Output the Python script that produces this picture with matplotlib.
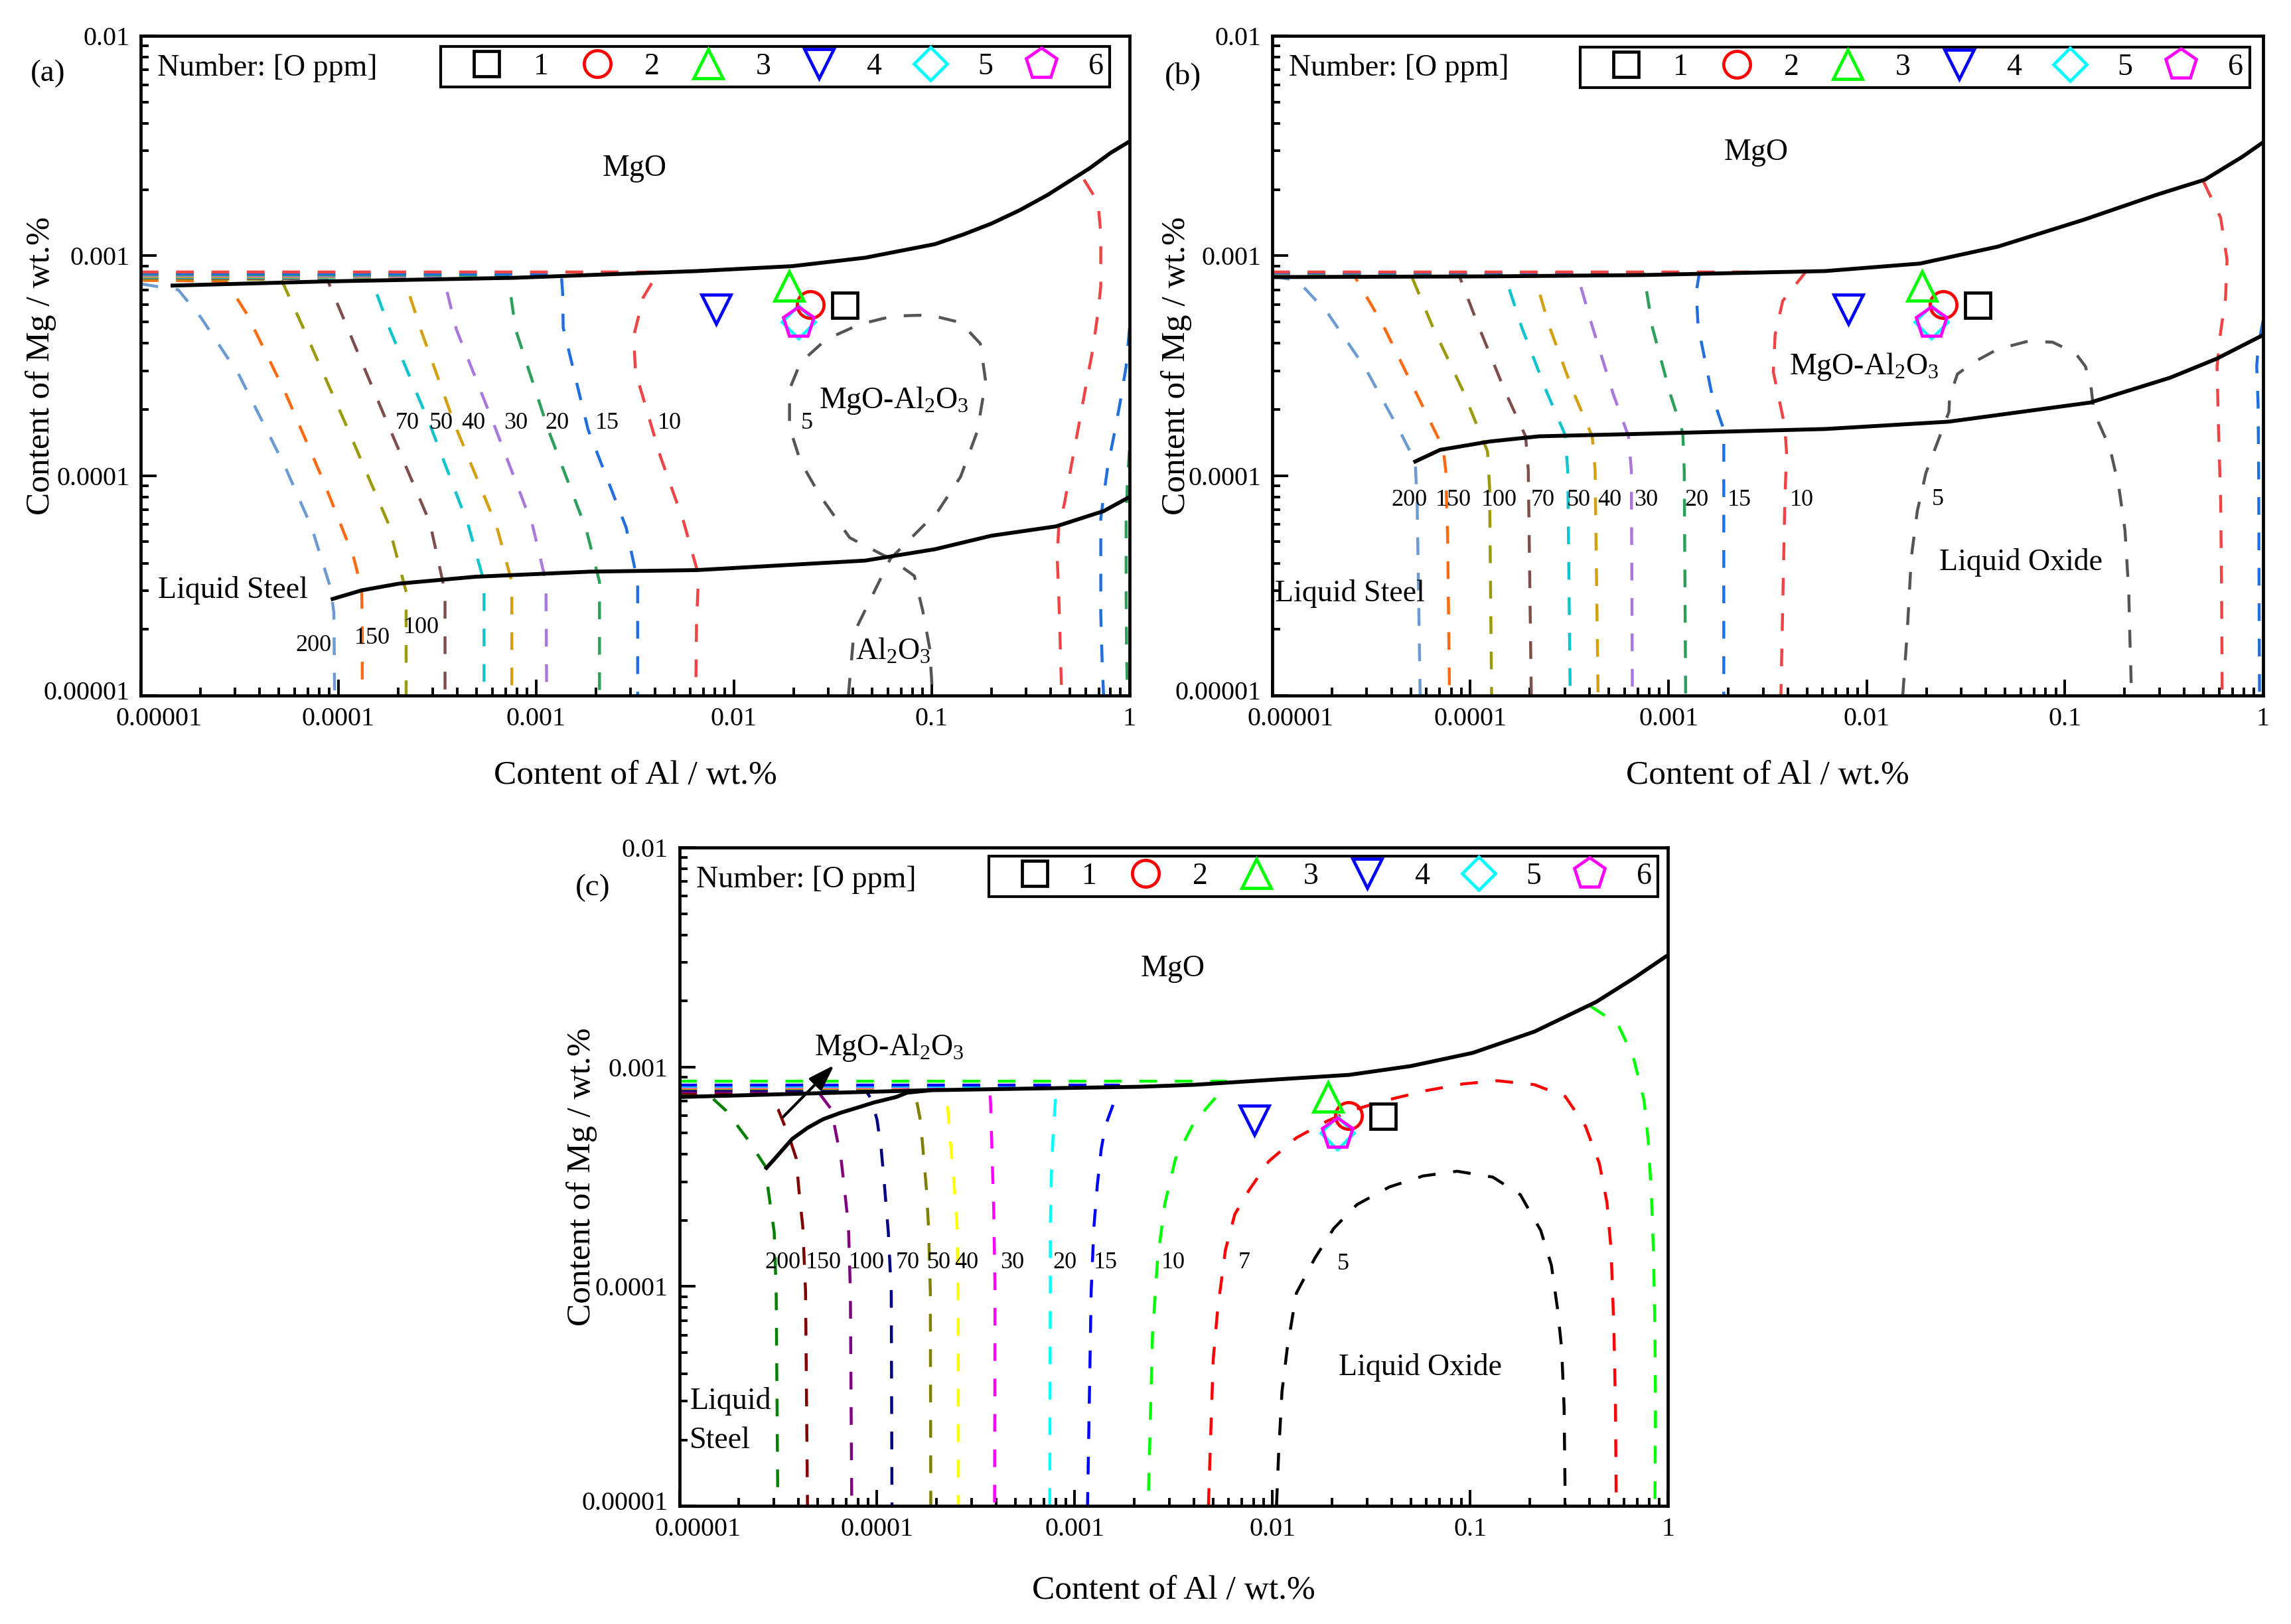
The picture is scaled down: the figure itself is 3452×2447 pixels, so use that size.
import numpy as np
import matplotlib
matplotlib.use('Agg')
import matplotlib.pyplot as plt
from matplotlib.ticker import LogLocator, FixedLocator, FixedFormatter, NullFormatter
from matplotlib.transforms import ScaledTranslation

plt.rcParams['font.family'] = ['Liberation Serif', 'DejaVu Serif']
plt.rcParams['mathtext.fontset'] = 'custom'
plt.rcParams['mathtext.rm'] = 'Liberation Serif'
plt.rcParams['mathtext.it'] = 'Liberation Serif:italic'
plt.rcParams['mathtext.default'] = 'regular'

# ---------------- axis ticks ----------------
X_TICKS = [1e-5, 1e-4, 1e-3, 1e-2, 1e-1, 1.0]
X_TICK_LABELS = ['0.00001', '0.0001', '0.001', '0.01', '0.1', '1']
Y_TICKS = [1e-5, 1e-4, 1e-3, 1e-2]
Y_TICK_LABELS = ['0.00001', '0.0001', '0.001', '0.01']

# ---------------- samples (same in all panels) ----------------
SAMPLE_NAMES = ['1', '2', '3', '4', '5', '6']
SAMPLE_AL = [0.0363, 0.0243, 0.0190, 0.0081, 0.0212, 0.0212]
SAMPLE_MG = [5.96e-4, 6.0e-4, 7.3e-4, 5.7e-4, 5.0e-4, 4.97e-4]

# ================= panel (a) =================
A_200_AL = [1.0e-5, 1.55e-5, 2.02e-5, 3.15e-5, 5.37e-5, 7.33e-5, 9.14e-5, 9.48e-5, 9.57e-5]
A_200_MG = [7.45e-4, 7.0e-4, 5.23e-4, 2.86e-4, 1.10e-4, 5.8e-5, 3.07e-5, 2.39e-5, 1.0e-5]
A_150_AL = [1e-5, 2.70e-5, 3.45e-5, 5.37e-5, 8.37e-5, 1.19e-4, 1.31e-4, 1.32e-4, 1.32e-4]
A_150_MG = [7.73e-4, 7.67e-4, 5.42e-4, 2.40e-4, 9.53e-5, 4.29e-5, 3.06e-5, 2.15e-5, 1e-5]
A_100_AL = [1e-5, 5.14e-5, 6.70e-5, 1.09e-4, 1.78e-4, 2.20e-4, 2.20e-4]
A_100_MG = [7.86e-4, 7.81e-4, 4.62e-4, 1.71e-4, 6.12e-5, 2.96e-5, 1e-5]
A_70_AL = [1e-5, 8.75e-5, 1.12e-4, 1.78e-4, 2.90e-4, 3.46e-4, 3.46e-4]
A_70_MG = [7.94e-4, 7.86e-4, 4.62e-4, 1.71e-4, 6.12e-5, 2.96e-5, 1e-5]
A_50_AL = [1e-5, 1.46e-4, 1.82e-4, 2.90e-4, 4.52e-4, 5.45e-4, 5.45e-4]
A_50_MG = [8.00e-4, 7.94e-4, 4.62e-4, 1.71e-4, 6.01e-5, 3.29e-5, 1e-5]
A_40_AL = [1e-5, 2.14e-4, 2.59e-4, 3.87e-4, 6.30e-4, 7.53e-4, 7.53e-4]
A_40_MG = [8.06e-4, 8.00e-4, 4.70e-4, 1.71e-4, 5.91e-5, 3.29e-5, 1e-5]
A_30_AL = [1e-5, 3.39e-4, 3.95e-4, 6.16e-4, 9.60e-4, 1.12e-3, 1.13e-3]
A_30_MG = [8.15e-4, 8.06e-4, 4.62e-4, 1.68e-4, 5.91e-5, 3.29e-5, 1e-5]
A_20_AL = [1e-5, 7.20e-4, 7.87e-4, 1.15e-3, 1.79e-3, 2.09e-3, 2.09e-3]
A_20_MG = [8.24e-4, 8.15e-4, 4.62e-4, 1.62e-4, 5.70e-5, 3.29e-5, 1e-5]
A_15_AL = [1e-5, 1.34e-3, 1.36e-3, 1.37e-3, 1.83e-3, 2.85e-3, 3.26e-3, 3.26e-3]
A_15_MG = [8.30e-4, 8.24e-4, 6.82e-4, 4.70e-4, 1.62e-4, 5.81e-5, 3.29e-5, 1e-5]
A_10_AL = [1e-5, 4.15e-3, 3.48e-3, 3.11e-3, 3.18e-3, 4.25e-3, 5.55e-3, 6.62e-3, 6.47e-3, 6.41e-3]
A_10_MG = [8.44e-4, 8.44e-4, 6.47e-4, 4.30e-4, 2.96e-4, 1.22e-4, 6.23e-5, 3.53e-5, 2.15e-5, 1e-5]
A_10R_AL = [0.589, 0.693, 0.716, 0.716, 0.693, 0.650, 0.598, 0.552, 0.508, 0.469, 0.439, 0.431, 0.439, 0.445, 0.454]
A_10R_MG = [2.22e-3, 1.75e-3, 1.27e-3, 7.26e-4, 5.50e-4, 3.68e-4, 2.47e-4, 1.66e-4, 1.11e-4, 7.47e-5, 5.88e-5, 4.27e-5, 2.87e-5, 1.92e-5, 1e-5]
A_15R_AL = [1.0, 0.962, 0.900, 0.843, 0.778, 0.740, 0.716, 0.716, 0.716, 0.728, 0.740]
A_15R_MG = [4.68e-4, 3.14e-4, 2.19e-4, 1.59e-4, 1.11e-4, 8.09e-5, 6.37e-5, 4.27e-5, 2.35e-5, 1.40e-5, 1e-5]
A_20R_AL = [1.0, 0.977, 0.962, 0.962, 0.967, 0.977]
A_20R_MG = [1.31e-4, 9.5e-5, 6.37e-5, 2.87e-5, 1.58e-5, 1e-5]
A_5_AL = [0.0379, 0.0404, 0.0618, 0.1076, 0.140, 0.170, 0.1875, 0.176, 0.140, 0.0977, 0.0638, 0.0432,
          0.0292, 0.0217, 0.0191, 0.0191, 0.0217, 0.0273, 0.0385, 0.0618, 0.0817, 0.0900, 0.0977, 0.101]
A_5_MG = [1e-5, 1.92e-5, 4.19e-5, 6.90e-5, 9.89e-5, 1.59e-4, 2.68e-4, 3.99e-4, 4.97e-4, 5.38e-4, 5.32e-4, 4.88e-4,
          4.16e-4, 3.27e-4, 2.47e-4, 1.66e-4, 1.16e-4, 8.09e-5, 5.22e-5, 4.19e-5, 3.50e-5, 2.44e-5, 1.64e-5, 1e-5]
A_UP_AL = [1.45e-5, 8.4e-5, 7.7e-4, 6.5e-3, 0.0197, 0.0461, 0.104, 0.1445, 0.200, 0.278, 0.385, 0.629, 0.804, 1.0]
A_UP_MG = [7.32e-4, 7.64e-4, 7.94e-4, 8.52e-4, 8.97e-4, 9.8e-4, 1.13e-3, 1.25e-3, 1.40e-3, 1.61e-3, 1.89e-3,
           2.50e-3, 2.94e-3, 3.31e-3]
A_LOW_AL = [9.35e-5, 1.31e-4, 2.03e-4, 4.93e-4, 1.87e-3, 6.49e-3, 0.0461, 0.104, 0.200, 0.425, 0.740, 1.0]
A_LOW_MG = [2.75e-5, 3.01e-5, 3.23e-5, 3.47e-5, 3.66e-5, 3.72e-5, 4.11e-5, 4.63e-5, 5.33e-5, 5.88e-5, 6.90e-5, 8.0e-5]
A_LBL_TXT = ['70', '50', '40', '30', '20', '15', '10', '200', '150', '100', '5']
A_LBL_AL = [2.22e-4, 3.31e-4, 4.83e-4, 7.87e-4, 1.28e-3, 2.28e-3, 4.74e-3, 7.5e-5, 1.48e-4, 2.62e-4, 0.0233]
A_LBL_MG = [1.73e-4, 1.73e-4, 1.73e-4, 1.73e-4, 1.73e-4, 1.73e-4, 1.73e-4, 1.69e-5, 1.83e-5, 2.04e-5, 1.74e-4]

# ================= panel (b) =================
B_200_AL = [1e-5, 1.34e-5, 1.90e-5, 2.96e-5, 4.41e-5, 5.27e-5, 5.39e-5, 5.58e-5]
B_200_MG = [8.06e-4, 7.73e-4, 5.51e-4, 3.07e-4, 1.59e-4, 1.16e-4, 7.44e-5, 1e-5]
B_150_AL = [1e-5, 2.60e-5, 3.61e-5, 5.15e-5, 7.28e-5, 7.51e-5, 7.68e-5, 7.85e-5]
B_150_MG = [8.14e-4, 8.09e-4, 4.88e-4, 2.53e-4, 1.34e-4, 1.06e-4, 5.21e-5, 1e-5]
B_100_AL = [1e-5, 5.04e-5, 6.43e-5, 9.16e-5, 1.22e-4, 1.25e-4, 1.28e-4]
B_100_MG = [8.17e-4, 8.11e-4, 4.79e-4, 2.44e-4, 1.29e-4, 8.88e-5, 1e-5]
B_70_AL = [1e-5, 8.76e-5, 1.09e-4, 1.49e-4, 1.90e-4, 1.96e-4, 2.03e-4]
B_70_MG = [8.23e-4, 8.17e-4, 4.88e-4, 2.44e-4, 1.51e-4, 1.06e-4, 1e-5]
B_50_AL = [1e-5, 1.49e-4, 1.82e-4, 2.43e-4, 3.00e-4, 3.10e-4, 3.19e-4]
B_50_MG = [8.26e-4, 8.20e-4, 4.70e-4, 2.40e-4, 1.54e-4, 1.06e-4, 1e-5]
B_40_AL = [1e-5, 2.10e-4, 2.48e-4, 3.31e-4, 4.12e-4, 4.26e-4, 4.41e-4]
B_40_MG = [8.29e-4, 8.23e-4, 4.88e-4, 2.40e-4, 1.51e-4, 1.06e-4, 1e-5]
B_30_AL = [1e-5, 3.46e-4, 4.12e-4, 5.26e-4, 6.28e-4, 6.49e-4, 6.57e-4]
B_30_MG = [8.32e-4, 8.26e-4, 4.79e-4, 2.35e-4, 1.51e-4, 1.06e-4, 1e-5]
B_20_AL = [1e-5, 7.50e-4, 8.30e-4, 1.02e-3, 1.18e-3, 1.20e-3, 1.22e-3]
B_20_MG = [8.35e-4, 8.29e-4, 4.70e-4, 2.35e-4, 1.57e-4, 1.06e-4, 1e-5]
B_15_AL = [1e-5, 1.43e-3, 1.38e-3, 1.41e-3, 1.66e-3, 1.90e-3, 1.90e-3, 1.90e-3]
B_15_MG = [8.38e-4, 8.35e-4, 6.82e-4, 4.79e-4, 2.31e-4, 1.62e-4, 1.06e-4, 1e-5]
B_10_AL = [1e-5, 4.92e-3, 3.77e-3, 3.45e-3, 3.38e-3, 3.86e-3, 3.94e-3, 3.86e-3, 3.69e-3]
B_10_MG = [8.44e-4, 8.44e-4, 6.24e-4, 4.38e-4, 2.96e-4, 1.68e-4, 1.27e-4, 7.44e-5, 1e-5]
B_10R_AL = [0.500, 0.611, 0.658, 0.647, 0.611, 0.586, 0.595, 0.611, 0.618, 0.622]
B_10R_MG = [2.18e-3, 1.49e-3, 9.6e-4, 6.44e-4, 4.50e-4, 3.14e-4, 1.73e-4, 7.78e-5, 2.87e-5, 1e-5]
B_15R_AL = [1.0, 0.944, 0.929, 0.944, 0.951, 0.955, 0.960]
B_15R_MG = [5.07e-4, 3.84e-4, 3.14e-4, 2.11e-4, 9.48e-5, 2.87e-5, 1e-5]
B_5_AL = [0.0152, 0.0160, 0.0168, 0.0180, 0.0199, 0.0235, 0.0260, 0.0262, 0.0287, 0.0351, 0.0458, 0.0640,
          0.0865, 0.113, 0.127, 0.136, 0.140, 0.169, 0.187, 0.201, 0.210, 0.213, 0.217]
B_5_MG = [1e-5, 1.92e-5, 4.27e-5, 6.90e-5, 1.03e-4, 1.53e-4, 1.95e-4, 2.28e-4, 2.90e-4, 3.30e-4, 3.76e-4, 4.07e-4,
          4.05e-4, 3.61e-4, 3.14e-4, 2.47e-4, 1.95e-4, 1.33e-4, 8.94e-5, 5.65e-5, 2.98e-5, 1.78e-5, 1e-5]
B_UP_AL = [1e-5, 1.25e-4, 7.33e-4, 6.16e-3, 0.0186, 0.0458, 0.125, 0.288, 0.509, 0.786, 1.0]
B_UP_MG = [8.00e-4, 8.06e-4, 8.17e-4, 8.52e-4, 9.22e-4, 1.10e-3, 1.46e-3, 1.89e-3, 2.22e-3, 2.82e-3, 3.28e-3]
B_LOW_AL = [5.27e-5, 7.03e-5, 1.25e-4, 2.22e-4, 7.33e-4, 6.16e-3, 0.0259, 0.134, 0.340, 0.582, 1.0]
B_LOW_MG = [1.16e-4, 1.31e-4, 1.43e-4, 1.51e-4, 1.55e-4, 1.63e-4, 1.76e-4, 2.15e-4, 2.79e-4, 3.40e-4, 4.36e-4]
B_LBL_TXT = ['200', '150', '100', '70', '50', '40', '30', '20', '15', '10', '5']
B_LBL_AL = [4.93e-5, 8.2e-5, 1.40e-4, 2.32e-4, 3.53e-4, 5.03e-4, 7.67e-4, 1.39e-3, 2.27e-3, 4.71e-3, 0.0229]
B_LBL_MG = [7.76e-5, 7.76e-5, 7.76e-5, 7.76e-5, 7.76e-5, 7.76e-5, 7.76e-5, 7.76e-5, 7.76e-5, 7.76e-5, 7.78e-5]

# ================= panel (c) =================
C_200_AL = [1e-5, 1.42e-5, 1.73e-5, 2.21e-5, 2.74e-5, 2.82e-5, 3.02e-5, 3.09e-5, 3.15e-5]
C_200_MG = [7.53e-4, 7.42e-4, 6.31e-4, 4.70e-4, 3.50e-4, 2.73e-4, 1.77e-4, 9.5e-5, 1e-5]
C_150_AL = [1e-5, 2.70e-5, 3.16e-5, 3.60e-5, 3.90e-5, 4.03e-5, 4.21e-5, 4.35e-5, 4.45e-5]
C_150_MG = [7.60e-4, 7.60e-4, 6.42e-4, 4.78e-4, 3.84e-4, 2.73e-4, 1.88e-4, 9.5e-5, 1e-5]
C_100_AL = [1e-5, 5.03e-5, 5.87e-5, 6.28e-5, 6.56e-5, 6.86e-5, 7.17e-5, 7.33e-5, 7.45e-5]
C_100_MG = [7.73e-4, 7.73e-4, 6.42e-4, 4.70e-4, 3.90e-4, 2.73e-4, 1.88e-4, 9.5e-5, 1e-5]
C_70_AL = [1e-5, 8.75e-5, 9.35e-5, 1.0e-4, 1.05e-4, 1.09e-4, 1.14e-4, 1.18e-4, 1.19e-4]
C_70_MG = [7.85e-4, 7.85e-4, 7.14e-4, 5.75e-4, 4.22e-4, 2.90e-4, 1.77e-4, 9.5e-5, 1e-5]
C_50_AL = [1e-5, 1.52e-4, 1.59e-4, 1.66e-4, 1.72e-4, 1.78e-4, 1.82e-4, 1.86e-4, 1.87e-4]
C_50_MG = [7.97e-4, 7.97e-4, 6.93e-4, 5.66e-4, 3.90e-4, 2.73e-4, 1.88e-4, 9.5e-5, 1e-5]
C_40_AL = [1e-5, 2.17e-4, 2.27e-4, 2.34e-4, 2.43e-4, 2.54e-4, 2.57e-4, 2.58e-4]
C_40_MG = [8.05e-4, 8.05e-4, 6.82e-4, 4.78e-4, 3.29e-4, 1.88e-4, 9.5e-5, 1e-5]
C_30_AL = [1e-5, 3.70e-4, 3.75e-4, 3.82e-4, 3.89e-4, 3.95e-4, 3.93e-4]
C_30_MG = [8.10e-4, 8.10e-4, 6.93e-4, 3.90e-4, 2.27e-4, 9.5e-5, 1e-5]
C_20_AL = [1e-5, 8.04e-4, 7.97e-4, 7.76e-4, 7.62e-4, 7.52e-4, 7.52e-4, 7.47e-4]
C_20_MG = [8.17e-4, 8.17e-4, 6.93e-4, 4.78e-4, 3.29e-4, 1.88e-4, 9.5e-5, 1e-5]
C_15_AL = [1e-5, 1.67e-3, 1.56e-3, 1.43e-3, 1.36e-3, 1.30e-3, 1.25e-3, 1.21e-3, 1.16e-3]
C_15_MG = [8.27e-4, 8.27e-4, 6.72e-4, 5.41e-4, 4.22e-4, 2.90e-4, 1.88e-4, 9.5e-5, 1e-5]
C_10_AL = [1e-5, 5.81e-3, 5.13e-3, 3.99e-3, 3.23e-3, 2.85e-3, 2.62e-3, 2.47e-3, 2.35e-3]
C_10_MG = [8.62e-4, 8.62e-4, 7.23e-4, 5.55e-4, 3.82e-4, 2.37e-4, 1.32e-4, 5.96e-5, 1e-5]
C_10R_AL = [0.403, 0.557, 0.667, 0.756, 0.793, 0.822, 0.843, 0.858, 0.864, 0.858]
C_10R_MG = [1.90e-3, 1.57e-3, 1.11e-3, 7.05e-4, 4.66e-4, 2.73e-4, 1.47e-4, 6.43e-5, 2.82e-5, 1e-5]
C_7_AL = [4.74e-3, 4.86e-3, 5.01e-3, 5.28e-3, 5.78e-3, 6.44e-3, 7.57e-3, 9.57e-3, 0.0132, 0.01895, 0.02526, 0.0375,
          0.0599, 0.0923, 0.137, 0.211, 0.302, 0.382, 0.449, 0.491, 0.515, 0.532, 0.542, 0.547]
C_7_MG = [1e-5, 2.03e-5, 4.63e-5, 7.91e-5, 1.47e-4, 2.13e-4, 2.73e-4, 3.72e-4, 4.76e-4, 5.68e-4, 6.35e-4, 7.05e-4,
          7.81e-4, 8.38e-4, 8.66e-4, 8.31e-4, 7.34e-4, 5.38e-4, 3.64e-4, 2.41e-4, 1.47e-4, 6.43e-5, 2.82e-5, 1e-5]
C_5_AL = [0.01047, 0.01073, 0.01116, 0.01187, 0.0132, 0.0164, 0.0204, 0.0267, 0.0389, 0.0578, 0.0858, 0.130,
          0.179, 0.227, 0.257, 0.276, 0.2895, 0.298, 0.302]
C_5_MG = [1e-5, 1.72e-5, 3.32e-5, 5.24e-5, 9.33e-5, 1.35e-4, 1.84e-4, 2.36e-4, 2.84e-4, 3.19e-4, 3.35e-4, 3.15e-4,
          2.62e-4, 1.80e-4, 1.25e-4, 7.91e-5, 5.24e-5, 2.82e-5, 1e-5]
C_UP_AL = [1e-5, 1.72e-4, 2.13e-3, 4.03e-3, 0.01186, 0.0244, 0.050, 0.1028, 0.211, 0.433, 0.667, 1.0]
C_UP_MG = [7.3e-4, 7.83e-4, 8.13e-4, 8.30e-4, 8.84e-4, 9.21e-4, 1.01e-3, 1.16e-3, 1.45e-3, 1.98e-3, 2.53e-3, 3.24e-3]
C_LOW_AL = [2.76e-5, 3.03e-5, 3.72e-5, 4.45e-5, 5.33e-5, 6.55e-5, 7.83e-5, 9.63e-5, 1.25e-4, 1.42e-4, 1.83e-4]
C_LOW_MG = [3.47e-4, 3.81e-4, 4.70e-4, 5.28e-4, 5.78e-4, 6.19e-4, 6.50e-4, 6.89e-4, 7.30e-4, 7.64e-4, 7.82e-4]
C_LBL_TXT = ['200', '150', '100', '70', '50', '40', '30', '20', '15', '10', '7', '5']
C_LBL_AL = [3.34e-5, 5.37e-5, 8.87e-5, 1.43e-4, 2.05e-4, 2.84e-4, 4.83e-4, 8.87e-4, 1.43e-3, 3.15e-3, 7.16e-3, 0.0227]
C_LBL_MG = [1.28e-4, 1.28e-4, 1.28e-4, 1.28e-4, 1.28e-4, 1.28e-4, 1.28e-4, 1.28e-4, 1.28e-4, 1.28e-4, 1.28e-4, 1.27e-4]
C_ARROW_AL = [3.35e-5, 6.07e-5]
C_ARROW_MG = [5.92e-4, 1.02e-3]

# ---------------- colours ----------------
AB_COLORS = {'200': '#6b9bd0', '150': '#ff6a10', '100': '#9a9a0a', '70': '#7e4e4b', '50': '#10c4cf',
             '40': '#d4a010', '30': '#aa78dc', '20': '#2ca05a', '15': '#1f6fdf', '10': '#ee4444', '5': '#555555'}
C_COLORS = {'200': '#008000', '150': '#800000', '100': '#800080', '70': '#000080', '50': '#808000',
            '40': '#ffff00', '30': '#ff00ff', '20': '#00ffff', '15': '#0000ff', '10': '#00ff00', '7': '#ff0000',
            '5': '#000000'}

A_CURVES = [('200', A_200_AL, A_200_MG), ('150', A_150_AL, A_150_MG), ('100', A_100_AL, A_100_MG),
            ('70', A_70_AL, A_70_MG), ('50', A_50_AL, A_50_MG), ('40', A_40_AL, A_40_MG),
            ('30', A_30_AL, A_30_MG), ('20', A_20_AL, A_20_MG), ('15', A_15_AL, A_15_MG),
            ('10', A_10_AL, A_10_MG), ('10', A_10R_AL, A_10R_MG), ('15', A_15R_AL, A_15R_MG),
            ('20', A_20R_AL, A_20R_MG), ('5', A_5_AL, A_5_MG)]
B_CURVES = [('200', B_200_AL, B_200_MG), ('150', B_150_AL, B_150_MG), ('100', B_100_AL, B_100_MG),
            ('70', B_70_AL, B_70_MG), ('50', B_50_AL, B_50_MG), ('40', B_40_AL, B_40_MG),
            ('30', B_30_AL, B_30_MG), ('20', B_20_AL, B_20_MG), ('15', B_15_AL, B_15_MG),
            ('10', B_10_AL, B_10_MG), ('10', B_10R_AL, B_10R_MG), ('15', B_15R_AL, B_15R_MG),
            ('5', B_5_AL, B_5_MG)]
C_CURVES = [('200', C_200_AL, C_200_MG), ('150', C_150_AL, C_150_MG), ('100', C_100_AL, C_100_MG),
            ('70', C_70_AL, C_70_MG), ('50', C_50_AL, C_50_MG), ('40', C_40_AL, C_40_MG),
            ('30', C_30_AL, C_30_MG), ('20', C_20_AL, C_20_MG), ('15', C_15_AL, C_15_MG),
            ('10', C_10_AL, C_10_MG), ('10', C_10R_AL, C_10R_MG), ('7', C_7_AL, C_7_MG),
            ('5', C_5_AL, C_5_MG)]

MARKERS = [('s', '#000000', 27), ('o', '#ff0000', 29), ('^', '#00ff00', 32),
           ('v', '#0000ff', 32), ('D', '#00ffff', 25), ('p', '#ff00ff', 35)]

FS_TICK = 29
FS_LABEL = 37
FS_TEXT = 33
FS_NUM = 26
DASH = (0, (6, 6))

fig = plt.figure(figsize=(34.52, 24.47), dpi=100)
ax_a = fig.add_axes([0.0614, 0.5717, 0.4316, 0.4062])
ax_b = fig.add_axes([0.5553, 0.5717, 0.4325, 0.4062])
ax_c = fig.add_axes([0.2965, 0.0727, 0.4316, 0.4054])


def style_axes(ax, xlab_y, ylab_x):
    ax.set_xscale('log')
    ax.set_yscale('log')
    ax.set_xlim(1e-5, 1)
    ax.set_ylim(1e-5, 1e-2)
    ax.xaxis.set_major_locator(FixedLocator(X_TICKS))
    ax.xaxis.set_major_formatter(FixedFormatter(X_TICK_LABELS))
    ax.yaxis.set_major_locator(FixedLocator(Y_TICKS))
    ax.yaxis.set_major_formatter(FixedFormatter(Y_TICK_LABELS))
    ax.xaxis.set_minor_locator(LogLocator(base=10, subs=np.arange(2, 10), numticks=30))
    ax.yaxis.set_minor_locator(LogLocator(base=10, subs=np.arange(2, 10), numticks=30))
    ax.xaxis.set_minor_formatter(NullFormatter())
    ax.yaxis.set_minor_formatter(NullFormatter())
    ax.tick_params(which='both', direction='in', top=False, right=False)
    ax.tick_params(which='major', length=17, width=2.8, labelsize=FS_TICK, pad=12)
    ax.tick_params(which='minor', length=8.5, width=2.8)
    for s in ax.spines.values():
        s.set_linewidth(3.4)
    ax.set_xlabel('Content of Al / wt.%', fontsize=FS_LABEL)
    ax.set_ylabel('Content of Mg / wt.%', fontsize=FS_LABEL)
    ax.xaxis.set_label_coords(0.5, xlab_y)
    ax.yaxis.set_label_coords(ylab_x, 0.5)


def draw_panel(ax, curves, colors, up, low, lbl_txt, lbl_al, lbl_mg, legend_anchor):
    for key, al, mg in curves:
        ax.plot(al, mg, color=colors[key], lw=3.2, linestyle=DASH, dash_capstyle='butt', zorder=2)
    ax.plot(up[0], up[1], color='black', lw=4.2, zorder=3)
    ax.plot(low[0], low[1], color='black', lw=4.2, zorder=3)
    for t, x, y in zip(lbl_txt, lbl_al, lbl_mg):
        ax.text(x, y, t, fontsize=FS_NUM, ha='center', va='center', zorder=4)
    handles = []
    order = [4, 0, 1, 2, 3, 5]
    for i in order:
        m, c, ms = MARKERS[i]
        h, = ax.plot([SAMPLE_AL[i]], [SAMPLE_MG[i]], linestyle='none', marker=m, ms=ms,
                     mfc='none', mec=c, mew=3.4, zorder=5, label=SAMPLE_NAMES[i])
        handles.append((i, h))
    handles = [h for i, h in sorted(handles)]
    ax.legend(handles=handles, ncol=6, loc='upper left', bbox_to_anchor=legend_anchor,
              fontsize=FS_TEXT, frameon=True, fancybox=False, edgecolor='black', framealpha=1,
              handlelength=2.6, handletextpad=0.25, columnspacing=0.3, borderpad=0.2,
              borderaxespad=0, numpoints=1)
    ax.get_legend().get_frame().set_linewidth(3)
    ax.text(0.017, 0.951, 'Number: [O ppm]', transform=ax.transAxes, fontsize=FS_TEXT,
            ha='left', va='center')


def shift_first_labels(ax):
    # Origin nudges the corner labels away from each other
    xt = ax.xaxis.get_major_ticks()[0].label1
    xt.set_transform(xt.get_transform() + ScaledTranslation(20 / 72, 0, fig.dpi_scale_trans))
    yt = ax.yaxis.get_major_ticks()[0].label1
    yt.set_transform(yt.get_transform() + ScaledTranslation(0, 6 / 72, fig.dpi_scale_trans))


# ---- panel (a)
style_axes(ax_a, -0.098, -0.085)
draw_panel(ax_a, A_CURVES, AB_COLORS, (A_UP_AL, A_UP_MG), (A_LOW_AL, A_LOW_MG),
           A_LBL_TXT, A_LBL_AL, A_LBL_MG, (0.3034, 0.984))
ax_a.text(3.15e-3, 2.49e-3, 'MgO', fontsize=FS_TEXT, ha='center', va='center')
ax_a.text(0.0646, 2.19e-4, r'MgO-Al$_2$O$_3$', fontsize=FS_TEXT, ha='center', va='center')
ax_a.text(0.0638, 1.58e-5, r'Al$_2$O$_3$', fontsize=FS_TEXT, ha='center', va='center')
ax_a.text(1.22e-5, 3.01e-5, 'Liquid Steel', fontsize=FS_TEXT, ha='left', va='center')

# ---- panel (b)
style_axes(ax_b, -0.098, -0.081)
draw_panel(ax_b, B_CURVES, AB_COLORS, (B_UP_AL, B_UP_MG), (B_LOW_AL, B_LOW_MG),
           B_LBL_TXT, B_LBL_AL, B_LBL_MG, (0.311, 0.983))
ax_b.text(2.76e-3, 2.95e-3, 'MgO', fontsize=FS_TEXT, ha='center', va='center')
ax_b.text(9.7e-3, 3.14e-4, r'MgO-Al$_2$O$_3$', fontsize=FS_TEXT, ha='center', va='center')
ax_b.text(0.0598, 4.03e-5, 'Liquid Oxide', fontsize=FS_TEXT, ha='center', va='center')
ax_b.text(1.03e-5, 2.91e-5, 'Liquid Steel', fontsize=FS_TEXT, ha='left', va='center')

# ---- panel (c)
style_axes(ax_c, -0.105, -0.083)
draw_panel(ax_c, C_CURVES, C_COLORS, (C_UP_AL, C_UP_MG), (C_LOW_AL, C_LOW_MG),
           C_LBL_TXT, C_LBL_AL, C_LBL_MG, (0.313, 0.987))
ax_c.text(3.13e-3, 2.80e-3, 'MgO', fontsize=FS_TEXT, ha='center', va='center')
ax_c.text(0.0560, 4.26e-5, 'Liquid Oxide', fontsize=FS_TEXT, ha='center', va='center')
ax_c.text(1.13e-5, 2.99e-5, 'Liquid', fontsize=FS_TEXT, ha='left', va='center')
ax_c.text(1.13e-5, 1.98e-5, 'Steel', fontsize=FS_TEXT, ha='left', va='center')
ax_c.text(4.81e-5, 1.23e-3, r'MgO-Al$_2$O$_3$', fontsize=FS_TEXT, ha='left', va='center')
ax_c.annotate('', xy=(C_ARROW_AL[1], C_ARROW_MG[1]), xytext=(C_ARROW_AL[0], C_ARROW_MG[0]),
              arrowprops=dict(arrowstyle='-|>,head_length=1.2,head_width=0.4', color='black', lw=3,
                              mutation_scale=20, shrinkA=0, shrinkB=0),
              zorder=6)

for ax in (ax_a, ax_b, ax_c):
    shift_first_labels(ax)

fig.text(0.021, 0.9546, '(a)', fontsize=34, ha='center', va='center')
fig.text(0.5165, 0.953, '(b)', fontsize=34, ha='center', va='center')
fig.text(0.2588, 0.4532, '(c)', fontsize=34, ha='center', va='center')

fig.savefig('out.png', dpi=100)
